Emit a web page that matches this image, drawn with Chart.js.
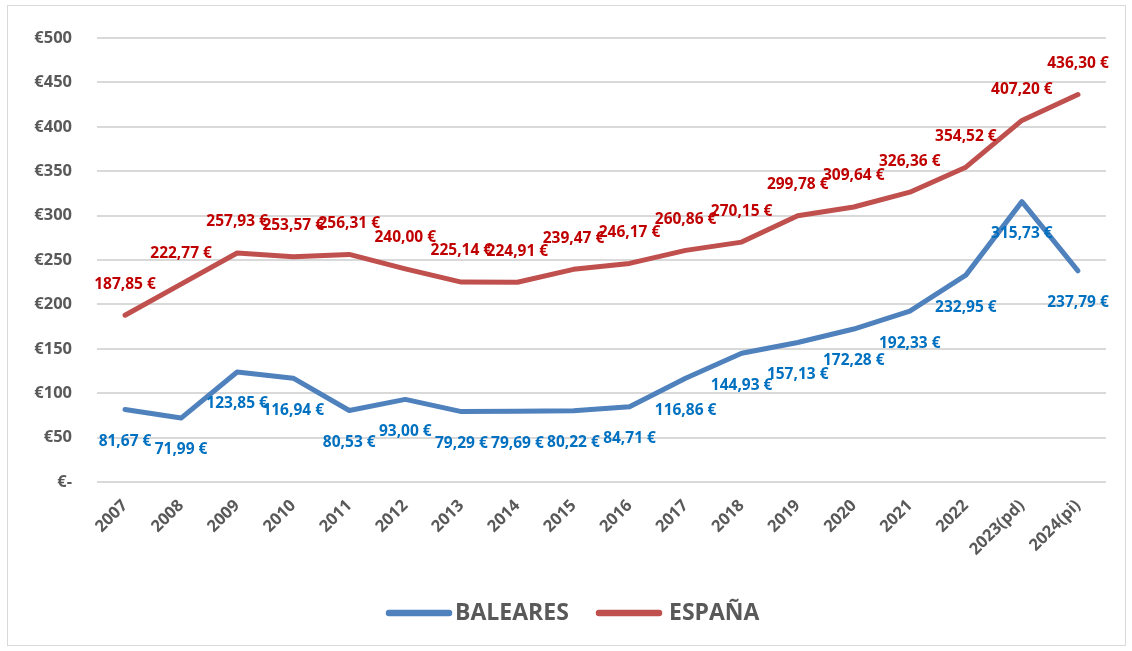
<!DOCTYPE html>
<html><head><meta charset="utf-8">
<script src="https://cdn.jsdelivr.net/npm/chart.js@4"></script>
<style>
html,body{margin:0;padding:0;background:#fff;}
#wrap{position:relative;width:1132px;height:651px;overflow:hidden;}
#frame{position:absolute;left:7px;top:5px;width:1119px;height:641px;border:1px solid #d9d9d9;box-sizing:border-box;pointer-events:none;}
canvas{display:block;}
</style></head>
<body><div id="wrap"><canvas id="c" width="1132" height="651"></canvas><div id="frame"></div></div>
<script>
const categories = ["2007","2008","2009","2010","2011","2012","2013","2014","2015","2016","2017","2018","2019","2020","2021","2022","2023(pd)","2024(pi)"];
const baleares = [81.67,71.99,123.85,116.94,80.53,93.00,79.29,79.69,80.22,84.71,116.86,144.93,157.13,172.28,192.33,232.95,315.73,237.79];
const espana = [187.85,222.77,257.93,253.57,256.31,240.00,225.14,224.91,239.47,246.17,260.86,270.15,299.78,309.64,326.36,354.52,407.20,436.30];
const yTicks = [0,50,100,150,200,250,300,350,400,450,500];
const seriesNames = ["BALEARES","ESPAÑA"];

const FONT = "'Open Sans', Lato, sans-serif";
const GRAY = "#595959";
const lineColors = ["#4F81BD","#C0504D"];
const labelColors = ["#0070C0","#C00000"];
const labelOffsets = [32,-31];

function fmt(v){ return v.toFixed(2).replace('.',',') + " €"; }

const dataLabels = {
  id:'dataLabels',
  afterDatasetsDraw(chart){
    const ctx = chart.ctx;
    ctx.save();
    ctx.font = "bold 15.5px " + FONT;
    ctx.textAlign = "center";
    ctx.textBaseline = "middle";
    chart.data.datasets.forEach((ds,i)=>{
      const meta = chart.getDatasetMeta(i);
      ctx.fillStyle = labelColors[i];
      meta.data.forEach((pt,j)=>{
        ctx.fillText(fmt(ds.data[j]), pt.x, pt.y + labelOffsets[i]);
      });
    });
    ctx.restore();
  }
};

const customLegend = {
  id:'customLegend',
  afterDraw(chart){
    const ctx = chart.ctx;
    ctx.save();
    ctx.font = "bold 23px " + FONT;
    ctx.textBaseline = "middle";
    ctx.textAlign = "left";
    const y = 613;
    const items = [{x1:389,x2:449,tx:455},{x1:599,x2:659,tx:669}];
    items.forEach((it,i)=>{
      ctx.strokeStyle = lineColors[i];
      ctx.lineWidth = 6.5;
      ctx.lineCap = "round";
      ctx.beginPath(); ctx.moveTo(it.x1,y); ctx.lineTo(it.x2,y); ctx.stroke();
      ctx.fillStyle = GRAY;
      ctx.fillText(seriesNames[i], it.tx, y);
    });
    ctx.restore();
  }
};

new Chart(document.getElementById('c'), {
  type:'line',
  data:{
    labels: categories,
    datasets:[
      {label:seriesNames[0], data:baleares, borderColor:lineColors[0], backgroundColor:lineColors[0], borderWidth:5, pointRadius:0, tension:0, borderCapStyle:'round', borderJoinStyle:'round'},
      {label:seriesNames[1], data:espana, borderColor:lineColors[1], backgroundColor:lineColors[1], borderWidth:5, pointRadius:0, tension:0, borderCapStyle:'round', borderJoinStyle:'round'}
    ]
  },
  options:{
    responsive:false,
    animation:false,
    layout:{padding:{top:38,right:26,bottom:0,left:0}},
    plugins:{legend:{display:false}, tooltip:{enabled:false}},
    scales:{
      x:{
        offset:true,
        grid:{display:false},
        border:{display:false},
        ticks:{color:GRAY, font:{family:FONT, size:16.5, weight:'bold'}, minRotation:45, maxRotation:45, padding:6, autoSkip:false},
        afterFit(s){ s.height = 169; }
      },
      y:{
        min:0, max:500,
        afterBuildTicks(s){ s.ticks = yTicks.map(v=>({value:v})); },
        grid:{color:"#d9d9d9", lineWidth:2, drawTicks:false},
        border:{display:false},
        ticks:{color:GRAY, font:{family:FONT, size:16.5, weight:'bold'}, padding:25,
          callback:(v)=> v===0 ? "€-" : "€"+v},
        afterFit(s){ s.width = 97; }
      }
    }
  },
  plugins:[dataLabels, customLegend]
});
</script>
</body></html>
